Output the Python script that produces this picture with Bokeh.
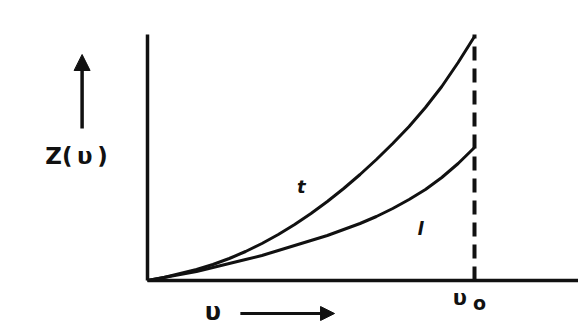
from bokeh.plotting import figure
from bokeh.models import Range1d, Arrow, NormalHead, ColumnDataSource
from bokeh.core.properties import value
from bokeh.embed import file_html
from bokeh.resources import INLINE

# nu / nu0
nu = [0.0, 0.05, 0.1, 0.15, 0.2, 0.25, 0.3, 0.35, 0.4, 0.45, 0.5, 0.55, 0.6, 0.65, 0.7, 0.75, 0.8, 0.85, 0.9, 0.95, 1.0]
# Z(nu), arbitrary units
z_t = [0, 3, 7, 11, 16, 22, 29, 37, 46, 56, 67, 79, 92, 106, 121, 137, 154, 173, 194, 218, 244]
z_l = [0, 3, 6, 9, 13, 17, 21, 25, 30, 35, 40, 45, 51, 57, 64, 72, 81, 91, 103, 117, 133]
axis_top = 246
curve_labels = ["t", "l"]
x_label = "υ"
y_label = "Z(\u2009υ\u2009)"
nu0_label = ["υ", "o"]

W, H = 578, 324
X0, Y0 = 147, 280   # position of the origin inside the canvas
p = figure(width=W, height=H, output_backend="svg", toolbar_location=None,
           x_range=Range1d(-X0 / 327, (W - X0) / 327), y_range=Range1d(Y0 - H, Y0),
           min_border=0, background_fill_color="white", border_fill_color="white")
p.axis.visible = False
p.grid.visible = False
p.outline_line_color = None

ink = "#111111"
# axes
p.line([0, 0], [0, axis_top], line_color=ink, line_width=3.5)
p.line([0, 2], [0, 0], line_color=ink, line_width=3.5)
# nu0 dashed line
p.line([1, 1], [0, axis_top], line_color=ink, line_width=4, line_dash="14 8")

src = ColumnDataSource(dict(nu=nu, t=z_t, l=z_l))
p.line("nu", "t", source=src, line_color=ink, line_width=3, line_join="round")
p.line("nu", "l", source=src, line_color=ink, line_width=3, line_join="round")

# arrows
p.add_layout(Arrow(end=NormalHead(size=16, fill_color=ink, line_color=ink),
                   x_start=-0.2, y_start=152, x_end=-0.2, y_end=226,
                   line_color=ink, line_width=3.5))
p.add_layout(Arrow(end=NormalHead(size=14, fill_color=ink, line_color=ink),
                   x_start=0.284, y_start=-33, x_end=0.572, y_end=-33,
                   line_color=ink, line_width=3))

fnt = value("DejaVu Sans")
p.text([-0.217], [125], text=[y_label], text_font=fnt, text_font_size="23px",
       text_font_style="bold", text_align="center", text_baseline="middle", text_color=ink)
p.text([0.2], [-31], text=[x_label], text_font=fnt, text_font_size="24px",
       text_font_style="bold", text_align="center", text_baseline="middle", text_color=ink)
p.text([0.955], [-17], text=[nu0_label[0]], text_font=fnt, text_font_size="21px",
       text_font_style="bold", text_align="center", text_baseline="middle", text_color=ink)
p.text([1.015], [-22], text=[nu0_label[1]], text_font=fnt, text_font_size="19px",
       text_font_style="bold", text_align="center", text_baseline="middle", text_color=ink)
p.text([0.47, 0.835], [94, 52], text=curve_labels, text_font=fnt, text_font_size="18px",
       text_font_style="bold italic", text_align="center", text_baseline="middle", text_color=ink)

open("out.html", "w").write(file_html(p, INLINE))
